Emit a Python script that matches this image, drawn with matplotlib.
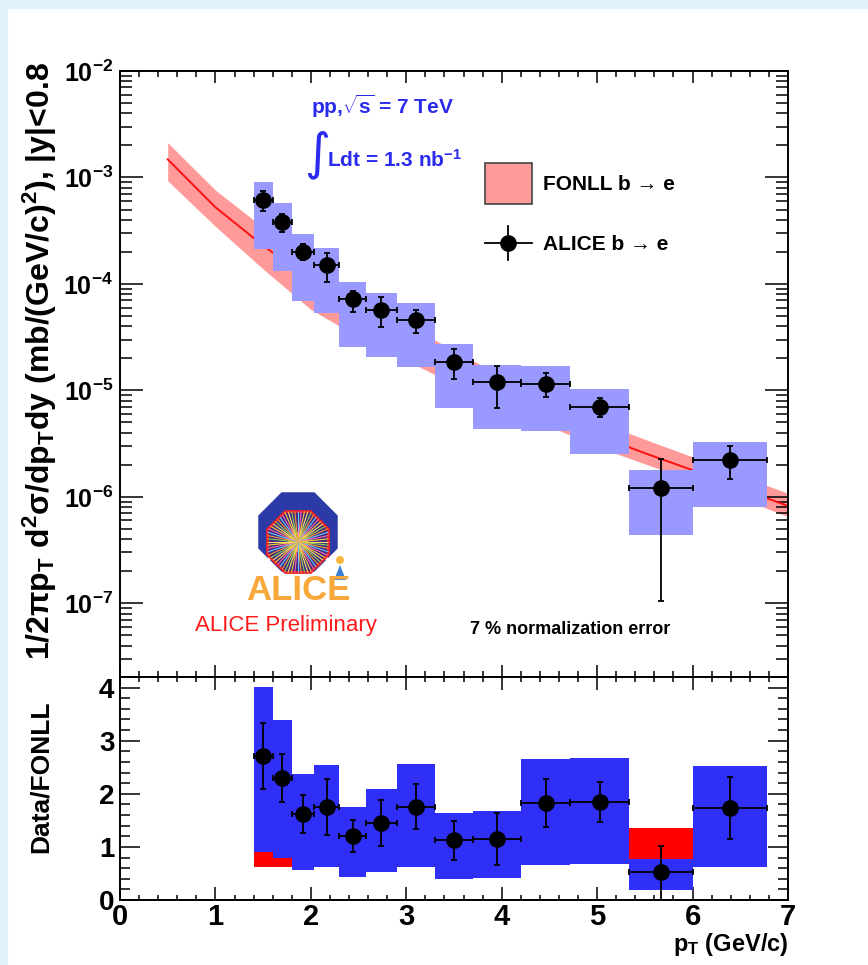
import numpy as np
import matplotlib
matplotlib.use('Agg')
import matplotlib.pyplot as plt
from matplotlib.patches import Rectangle, RegularPolygon, Polygon, Circle
from matplotlib.ticker import MultipleLocator, LogLocator, FuncFormatter, NullFormatter

# ---- data ----
pt_edges = [1.4, 1.6, 1.8, 2.03, 2.3, 2.58, 2.9, 3.3, 3.7, 4.2, 4.72, 5.33, 6.0, 6.78]

sigma = [6.15e-4, 3.85e-4, 1.99e-4, 1.49e-4, 7.18e-5, 5.70e-5, 4.59e-5,
         1.86e-5, 1.19e-5, 1.16e-5, 7.05e-6, 1.21e-6, 2.24e-6]
stat_hi = [7.5e-4, 4.54e-4, 2.36e-4, 1.94e-4, 8.65e-5, 7.5e-5, 5.7e-5,
           2.45e-5, 1.71e-5, 1.46e-5, 8.45e-6, 2.28e-6, 3.01e-6]
stat_lo = [4.84e-4, 3.10e-4, 1.68e-4, 1.05e-4, 5.5e-5, 3.97e-5, 3.44e-5,
           1.28e-5, 6.9e-6, 8.75e-6, 5.6e-6, 1.04e-7, 1.48e-6]
sys_hi = [9.14e-4, 5.73e-4, 2.94e-4, 2.16e-4, 1.05e-4, 8.18e-5, 6.67e-5,
          2.72e-5, 1.73e-5, 1.70e-5, 1.03e-5, 1.77e-6, 3.28e-6]
sys_lo = [2.13e-4, 1.33e-4, 6.97e-5, 5.37e-5, 2.58e-5, 2.07e-5, 1.64e-5,
          6.8e-6, 4.32e-6, 4.17e-6, 2.54e-6, 4.34e-7, 8.1e-7]

fonll_pt = [0.5, 1.0, 1.5, 2.0, 2.5, 3.0, 3.5, 4.0, 4.5, 5.0, 5.5, 6.0, 6.5, 7.0]
fonll_cen = [1.48e-3, 5.25e-4, 2.29e-4, 1.07e-4, 5.5e-5, 2.95e-5, 1.66e-5,
             1.0e-5, 6.0e-6, 3.8e-6, 2.57e-6, 1.78e-6, 1.20e-6, 8.2e-7]
fonll_up = [2.12e-3, 7.6e-4, 3.39e-4, 1.55e-4, 7.9e-5, 4.27e-5, 2.34e-5,
            1.38e-5, 8.3e-6, 5.1e-6, 3.47e-6, 2.37e-6, 1.58e-6, 1.08e-6]
fonll_lo = [9.3e-4, 3.47e-4, 1.38e-4, 5.75e-5, 3.16e-5, 1.9e-5, 1.15e-5,
            7.2e-6, 4.6e-6, 2.95e-6, 2.04e-6, 1.41e-6, 9.8e-7, 6.5e-7]

ratio = [2.71, 2.29, 1.62, 1.745, 1.21, 1.45, 1.76, 1.13, 1.15, 1.83, 1.85, 0.535, 1.73]
ratio_hi = [3.34, 2.75, 1.98, 2.27, 1.50, 1.88, 2.19, 1.48, 1.64, 2.28, 2.22, 1.02, 2.32]
ratio_lo = [2.09, 1.85, 1.27, 1.23, 0.91, 1.01, 1.33, 0.76, 0.66, 1.37, 1.47, 0.0, 1.15]
ratio_sys_hi = [4.02, 3.39, 2.38, 2.55, 1.76, 2.10, 2.57, 1.64, 1.67, 2.65, 2.68, 1.35, 2.52]
ratio_sys_lo = [0.63, 0.63, 0.567, 0.62, 0.44, 0.52, 0.63, 0.40, 0.41, 0.65, 0.67, 0.19, 0.62]
# red (FONLL) boxes visible in the ratio panel
red_bins = [0, 1, 11]
red_hi = [0.91, 0.79, 1.35]
red_lo = [0.63, 0.63, 0.77]

# ---- style ----
plt.rcParams['font.family'] = ['Liberation Sans', 'DejaVu Sans']
plt.rcParams['font.weight'] = 'bold'
plt.rcParams['mathtext.fontset'] = 'custom'
plt.rcParams['mathtext.rm'] = 'Liberation Sans:bold'
plt.rcParams['mathtext.it'] = 'Liberation Sans:bold:italic'
plt.rcParams['mathtext.bf'] = 'Liberation Sans:bold'
plt.rcParams['mathtext.sf'] = 'Liberation Sans:bold'
plt.rcParams['mathtext.default'] = 'rm'

W, H = 868, 965
fig = plt.figure(figsize=(W / 100, H / 100), dpi=100)
fig.patch.set_facecolor('white')


def fx(px):
    return px / W


def fy(py):
    return 1 - py / H


# light blue page border
fig.patches.append(Rectangle((0, fy(8)), 1, 1 - fy(8), transform=fig.transFigure,
                             color='#e2f3fd', zorder=0))
fig.patches.append(Rectangle((0, 0), fx(7), 1, transform=fig.transFigure,
                             color='#e2f3fd', zorder=0))

ax = fig.add_axes([fx(120), fy(677), fx(788) - fx(120), fy(71) - fy(677)])
axr = fig.add_axes([fx(120), fy(900), fx(788) - fx(120), fy(677) - fy(900)])

edges = np.array(pt_edges)
xl, xh = edges[:-1], edges[1:]
xc = (xl + xh) / 2
xe = (xh - xl) / 2
sigma = np.array(sigma)

blue_light = '#9999ff'
blue_dark = '#2f2ff7'
red_band = '#ff9a9a'

# upper panel
ax.fill_between(fonll_pt, fonll_lo, fonll_up, color=red_band, lw=0, zorder=1)
ax.plot(fonll_pt, fonll_cen, color='#ff1010', lw=1.4, zorder=2)
ax.bar(xc, np.array(sys_hi) - np.array(sys_lo), bottom=sys_lo, width=xh - xl,
       color=blue_light, lw=0, zorder=3)
ax.errorbar(xc, sigma, yerr=[sigma - np.array(stat_lo), np.array(stat_hi) - sigma],
            xerr=xe, fmt='o', color='k', ms=11, elinewidth=1.3, capsize=2.5,
            capthick=1.3, zorder=5)
ax.set_yscale('log')
ax.set_xlim(0, 7)
ax.set_ylim(2.03e-8, 1e-2)
ax.yaxis.set_major_locator(LogLocator(base=10, numticks=20))
ax.yaxis.set_minor_locator(LogLocator(base=10, subs=np.arange(2, 10) * 1.0, numticks=20))
ax.yaxis.set_major_formatter(FuncFormatter(lambda v, p: r'$10^{%d}$' % round(np.log10(v))))
ax.yaxis.set_minor_formatter(NullFormatter())
ax.xaxis.set_major_locator(MultipleLocator(1))
ax.xaxis.set_minor_locator(MultipleLocator(0.2))
ax.tick_params(axis='both', which='both', direction='in', top=True, right=True,
               labelbottom=False, width=1.1)
ax.tick_params(axis='x', which='major', length=8.6)
ax.tick_params(axis='x', which='minor', length=4.3)
ax.tick_params(axis='y', which='major', length=16.5, labelsize=18, pad=5)
ax.tick_params(axis='y', which='minor', length=8.6)

# ratio panel
ratio = np.array(ratio)
axr.bar(xc, np.array(ratio_sys_hi) - np.array(ratio_sys_lo), bottom=ratio_sys_lo,
        width=xh - xl, color=blue_dark, lw=0, zorder=2)
axr.bar(xc[red_bins], np.array(red_hi) - np.array(red_lo), bottom=red_lo,
        width=(xh - xl)[red_bins], color='#ff0000', lw=0, zorder=3)
axr.errorbar(xc, ratio, yerr=[ratio - np.array(ratio_lo), np.array(ratio_hi) - ratio],
             xerr=xe, fmt='o', color='k', ms=11, elinewidth=1.3, capsize=2.5,
             capthick=1.3, zorder=5)
axr.set_xlim(0, 7)
axr.set_ylim(0, 4.2)
axr.yaxis.set_major_locator(MultipleLocator(1))
axr.yaxis.set_minor_locator(MultipleLocator(0.2))
axr.xaxis.set_major_locator(MultipleLocator(1))
axr.xaxis.set_minor_locator(MultipleLocator(0.2))
axr.yaxis.set_major_formatter(FuncFormatter(lambda v, p: '%d' % round(v)))
axr.xaxis.set_major_formatter(FuncFormatter(lambda v, p: '%d' % round(v)))
axr.tick_params(axis='both', which='both', direction='in', top=True, right=True, width=1.1)
axr.tick_params(axis='x', which='major', length=9.4, labelsize=21, pad=2)
axr.tick_params(axis='x', which='minor', length=3.6)
axr.tick_params(axis='y', which='major', length=14.4, labelsize=20, pad=4)
axr.tick_params(axis='y', which='minor', length=7.2)

for a in (ax, axr):
    for s in a.spines.values():
        s.set_linewidth(1.4)

# axis titles
fig.text(fx(40), fy(361),
         r'1/2$\pi$p$_{\rm T}$ d$^{2}\sigma$/dp$_{\rm T}$dy (mb/(GeV/c)$^{2}$), |y|<0.8',
         rotation=90, ha='center', va='center', fontsize=23)
fig.text(fx(41), fy(777), 'Data/FONLL', rotation=90, ha='center', va='center', fontsize=19)
fig.text(fx(789), fy(944), r'p$_{\rm T}$ (GeV/c)', ha='right', va='center', fontsize=17)

# annotations
blue_txt = '#2b2bee'
fig.text(fx(311), fy(106), r'pp,$\sqrt{\rm s}$ = 7 TeV', color=blue_txt, fontsize=15,
         ha='left', va='center')
fig.text(fx(317), fy(155), '\u222b', color=blue_txt, fontsize=36, fontweight='normal',
         family=['DejaVu Sans'], ha='center', va='center')
fig.text(fx(327), fy(160), r'Ldt = 1.3 nb$^{-1}$', color=blue_txt, fontsize=15,
         ha='left', va='center')
fig.text(fx(195), fy(626), 'ALICE Preliminary', color='#ff1a1a', fontsize=16,
         fontweight='normal', ha='left', va='center')
fig.text(fx(470), fy(630), '7 % normalization error', fontsize=13, ha='left', va='center')

# overlay in pixel coordinates: legend and logo
ov = fig.add_axes([0, 0, 1, 1], zorder=10)
ov.set_xlim(0, W)
ov.set_ylim(H, 0)
ov.axis('off')
ov.patch.set_visible(False)

ov.add_patch(Rectangle((485, 163), 47, 41, fc=red_band, ec='#444444', lw=1.2))
ov.text(543, 184, 'FONLL b \u2192 e', fontsize=15, ha='left', va='center')
ov.plot([485, 532], [243, 243], color='k', lw=1.3)
ov.plot([508, 508], [226, 260], color='k', lw=1.3)
ov.plot([508], [243], 'o', color='k', ms=11)
ov.text(543, 244, 'ALICE b \u2192 e', fontsize=15, ha='left', va='center')

# ALICE logo
ov.add_patch(RegularPolygon((298, 532), 8, radius=43, orientation=np.pi / 8,
                            fc='#2b3aa6', ec='none'))
ov.add_patch(Rectangle((268, 540), 60, 20, fc='white', ec='none'))
oct_in = RegularPolygon((298, 542), 8, radius=33, orientation=np.pi / 8,
                        fc='#3b2b86', ec='#e8202a', lw=2)
ov.add_patch(oct_in)
ray_cols = ['#ffe066', '#8fd14f', '#ff9933', '#66ccff', '#ff66aa', '#ffcc33']
for i, a in enumerate(np.linspace(0, 2 * np.pi, 60, endpoint=False)):
    ln, = ov.plot([298, 298 + 34 * np.cos(a)], [542, 542 + 34 * np.sin(a)],
                  color=ray_cols[i % len(ray_cols)], lw=0.8)
    ln.set_clip_path(oct_in)
ov.add_patch(Circle((298, 542), 10, fc='#ffb347', ec='none', alpha=0.9))
ov.add_patch(Circle((298, 542), 5, fc='#fff27a', ec='none'))
ov.add_patch(Polygon([[334, 580], [346, 580], [340, 565]], fc='#3d7fd6', ec='none'))
ov.add_patch(Circle((340, 560), 4, fc='#f6b73c', ec='none'))
ov.text(298, 590, 'ALICE', color='#f8a83a', fontsize=25, ha='center', va='center')

fig.savefig('out.png', dpi=100)
